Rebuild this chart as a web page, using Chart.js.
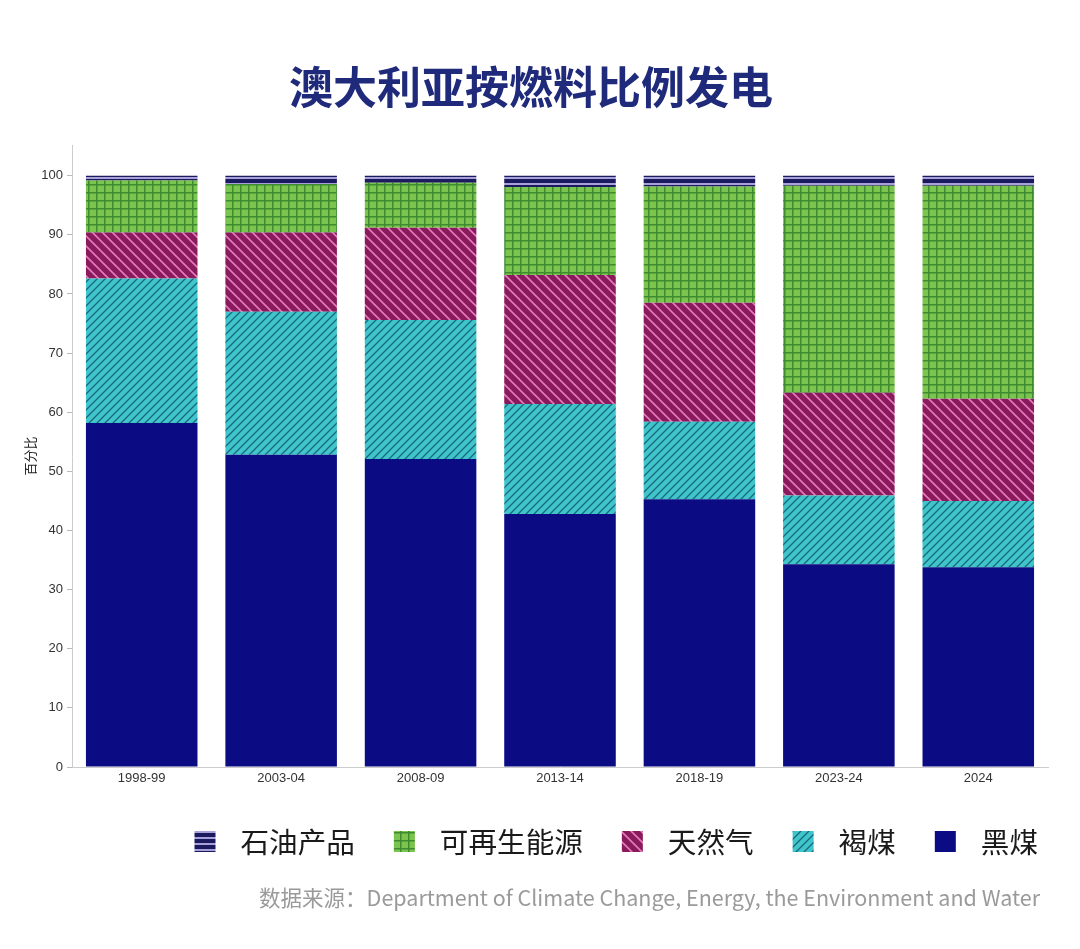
<!DOCTYPE html>
<html><head><meta charset="utf-8">
<script src="https://cdn.jsdelivr.net/npm/chart.js@4"></script>
<style>
html,body{margin:0;padding:0;background:#fff;}
#wrap{position:relative;width:1080px;height:949px;overflow:hidden;}
canvas{position:absolute;left:0;top:0;}
#title{position:absolute;left:0;width:1062px;top:63px;text-align:center;font:700 44px/1 "Noto Sans CJK SC";color:#1f2a7a;white-space:nowrap;}
#src{position:absolute;right:40px;top:886px;font:21.5px/1 "Noto Sans CJK SC";color:#9a9a9a;white-space:nowrap;}
</style></head>
<body>
<div id="wrap">
<canvas id="c" width="1080" height="949"></canvas>
<div id="title">澳大利亚按燃料比例发电</div>
<div id="src">数据来源：Department of Climate Change, Energy, the Environment and Water</div>
</div>
<script>
const categories = ['1998-99','2003-04','2008-09','2013-14','2018-19','2023-24','2024'];
const blackCoal  = [58.2, 52.8, 52.1, 42.8, 45.3, 34.3, 33.8];
const brownCoal  = [24.4, 24.2, 23.5, 18.6, 13.1, 11.6, 11.2];
const gas        = [7.8, 13.4, 15.6, 21.8, 20.1, 17.4, 17.3];
const renewables = [8.8, 8.2, 7.6, 14.9, 19.7, 35.0, 36.0];
const oil        = [0.8, 1.4, 1.2, 1.9, 1.8, 1.7, 1.7];
const yTicks     = [0,10,20,30,40,50,60,70,80,90,100];

function mk(size, draw){
  const c=document.createElement('canvas'); c.width=c.height=size;
  const g=c.getContext('2d'); draw(g,size); return g.createPattern(c,'repeat');
}
const pBlack = '#0b0b84';
const pBrown = mk(8,(g,s)=>{
  g.fillStyle='#3ec6cc'; g.fillRect(0,0,s,s);
  g.strokeStyle='#1d6878'; g.lineWidth=1.3; g.beginPath();
  g.moveTo(0,s); g.lineTo(s,0);
  g.moveTo(-2,2); g.lineTo(2,-2);
  g.moveTo(s-2,s+2); g.lineTo(s+2,s-2);
  g.stroke();
});
const pGas = mk(10,(g,s)=>{
  g.fillStyle='#8a1a5c'; g.fillRect(0,0,s,s);
  g.strokeStyle='#e27cbc'; g.lineWidth=1.6; g.beginPath();
  g.moveTo(0,0); g.lineTo(s,s);
  g.moveTo(s-2,-2); g.lineTo(s+2,2);
  g.moveTo(-2,s-2); g.lineTo(2,s+2);
  g.stroke();
});
const pRen = mk(8,(g,s)=>{
  g.fillStyle='#7bc44d'; g.fillRect(0,0,s,s);
  g.fillStyle='#3f8c30'; g.fillRect(0,0,1.5,s); g.fillRect(0,0,s,1.5);
});
const pOil = mk(6,(g,s)=>{
  g.fillStyle='#1c1a5e'; g.fillRect(0,0,s,s);
  g.fillStyle='#a8a0d8'; g.fillRect(0,3,s,2);
});

const legendPlugin = {
  id:'customLegend',
  afterDraw(chart){
    const ctx=chart.ctx; ctx.save();
    ctx.font='28.6px "Noto Sans CJK SC"';
    const items=chart.data.datasets.map(d=>({label:d.label,fill:d.backgroundColor})).reverse();
    const box=21, gapBT=25, gapItem=39;
    let total=0;
    items.forEach((it,i)=>{it.w=ctx.measureText(it.label).width; total+=box+gapBT+it.w+(i<items.length-1?gapItem:0);});
    let x=1038-total; const cy=841;
    ctx.textBaseline='middle';
    items.forEach(it=>{
      ctx.fillStyle=it.fill; ctx.fillRect(x,cy-10,box,box);
      ctx.fillStyle='#1a1a1a'; ctx.fillText(it.label,x+box+gapBT,cy+1);
      x+=box+gapBT+it.w+gapItem;
    });
    ctx.restore();
  }
};

const mkDs=(label,data,bg)=>({label,data,backgroundColor:bg,borderWidth:0,categoryPercentage:1,barPercentage:0.8});

new Chart(document.getElementById('c'),{
  type:'bar',
  data:{labels:categories,datasets:[
    mkDs('黑煤',blackCoal,pBlack),
    mkDs('褐煤',brownCoal,pBrown),
    mkDs('天然气',gas,pGas),
    mkDs('可再生能源',renewables,pRen),
    mkDs('石油产品',oil,pOil)
  ]},
  options:{
    responsive:false, animation:false,
    layout:{padding:{top:145,right:32,left:0,bottom:157}},
    plugins:{legend:{display:false},tooltip:{enabled:false}},
    scales:{
      x:{stacked:true,
        afterFit(s){s.height=25;},
        ticks:{font:{size:13,family:'"Liberation Sans", Arial'},color:'#333',padding:4,maxRotation:0},
        grid:{display:false,drawTicks:false,tickLength:0},
        border:{display:true,color:'#cccccc'}},
      y:{stacked:true,min:0,max:105.2,
        afterBuildTicks(s){s.ticks=yTicks.map(v=>({value:v}));},
        afterFit(s){s.width=72;},
        ticks:{font:{size:13,family:'"Liberation Sans", Arial'},color:'#333',padding:4},
        grid:{drawOnChartArea:false,drawTicks:true,tickLength:5,color:'#bbbbbb'},
        border:{display:true,color:'#cccccc'},
        title:{display:true,text:'百分比',font:{size:13,family:'"Noto Sans CJK SC"'},color:'#222',padding:{top:22,bottom:0}}}
    }
  },
  plugins:[legendPlugin]
});
</script>
</body></html>
